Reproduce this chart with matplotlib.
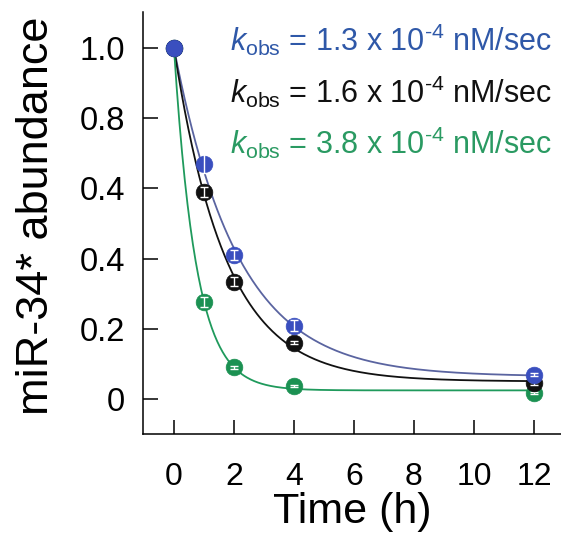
import matplotlib
matplotlib.use("Agg")
import matplotlib.pyplot as plt
import numpy as np

plt.rcParams['font.family'] = ['Liberation Sans', 'DejaVu Sans']
plt.rcParams['mathtext.fontset'] = 'custom'
plt.rcParams['mathtext.rm'] = 'Liberation Sans'
plt.rcParams['mathtext.it'] = 'Liberation Sans:italic'

# data
time_h = [0, 1, 2, 4, 12]
blue_y = [1.0, 0.67, 0.411, 0.209, 0.069]
blue_err = [0.0, 0.027, 0.015, 0.015, 0.004]
black_y = [1.0, 0.59, 0.334, 0.16, 0.045]
black_err = [0.0, 0.015, 0.013, 0.004, 0.004]
green_y = [1.0, 0.277, 0.091, 0.037, 0.017]
green_err = [0.0, 0.015, 0.004, 0.004, 0.004]

kobs_labels = ['1.3', '1.6', '3.8']
ytick_vals = [0, 0.2, 0.4, 0.6, 0.8, 1.0]
ytick_text = ['0', '0.2', '0.4', '0.4', '0.8', '1.0']
xtick_vals = [0, 2, 4, 6, 8, 10, 12]

marker_cols = ['#3a4fbf', '#111111', '#1b9152']
line_cols = ['#5a64a0', '#111111', '#1f9a5c']
text_cols = ['#2f58a8', '#111111', '#2a9a62']
marker_z = [7, 6, 5]


def fit_decay(t, y):
    # single exponential from 1 to a plateau, least squares on a k grid
    t = np.array(t, float)
    y = np.array(y, float)
    best = None
    for k in np.linspace(0.05, 3, 3000):
        e = np.exp(-k * t)
        p = np.sum((y - e) * (1 - e)) / np.sum((1 - e) ** 2)
        r = np.sum((p + (1 - p) * e - y) ** 2)
        if best is None or r < best[0]:
            best = (r, k, p)
    return best[1], best[2]


fig = plt.figure(figsize=(5.61, 5.42), dpi=100)
ax = fig.add_axes([0.255, 0.199, 0.745, 0.779])

tt = np.linspace(0, 12, 400)
series = [(blue_y, blue_err), (black_y, black_err), (green_y, green_err)]
for i, (y, err) in enumerate(series):
    k, p = fit_decay(time_h, y)
    ax.plot(tt, p + (1 - p) * np.exp(-k * tt), color=line_cols[i], lw=1.3, zorder=2)
for i, (y, err) in enumerate(series):
    ax.plot(time_h, y, 'o', ms=12, color=marker_cols[i], mec=marker_cols[i],
            mew=0.5, zorder=marker_z[i])
    ax.errorbar(time_h[1:], y[1:], yerr=err[1:], fmt='none', ecolor='white',
                elinewidth=1.0, capsize=3, capthick=1.0, zorder=marker_z[i] + 0.5)

for i, lab in enumerate(kobs_labels):
    ax.text(0.208, 0.934 - i * 0.122,
            r'$k_{\mathrm{obs}}$ = ' + lab + ' x 10$^{\u20104}$ nM/sec',
            transform=ax.transAxes, fontsize=22, color=text_cols[i],
            ha='left', va='center')

ax.set_xlim(-1.03, 12.9)
ax.set_ylim(-0.1, 1.103)
ax.set_xticks(xtick_vals)
ax.set_yticks(ytick_vals)
ax.set_yticklabels(ytick_text)
ax.tick_params(axis='y', direction='in', length=11, width=1.1, labelsize=23.5, pad=13)
ax.tick_params(axis='x', direction='in', length=10, width=1.1, labelsize=23, pad=20)
for s in ['top', 'right']:
    ax.spines[s].set_visible(False)
for s in ['left', 'bottom']:
    ax.spines[s].set_linewidth(1.1)

ax.set_xlabel('Time (h)', fontsize=31, labelpad=0)
ax.set_ylabel('miR-34* abundance', fontsize=32.5, labelpad=16)
ax.yaxis.label.set_y(0.517)

fig.savefig('out.png', dpi=100)
